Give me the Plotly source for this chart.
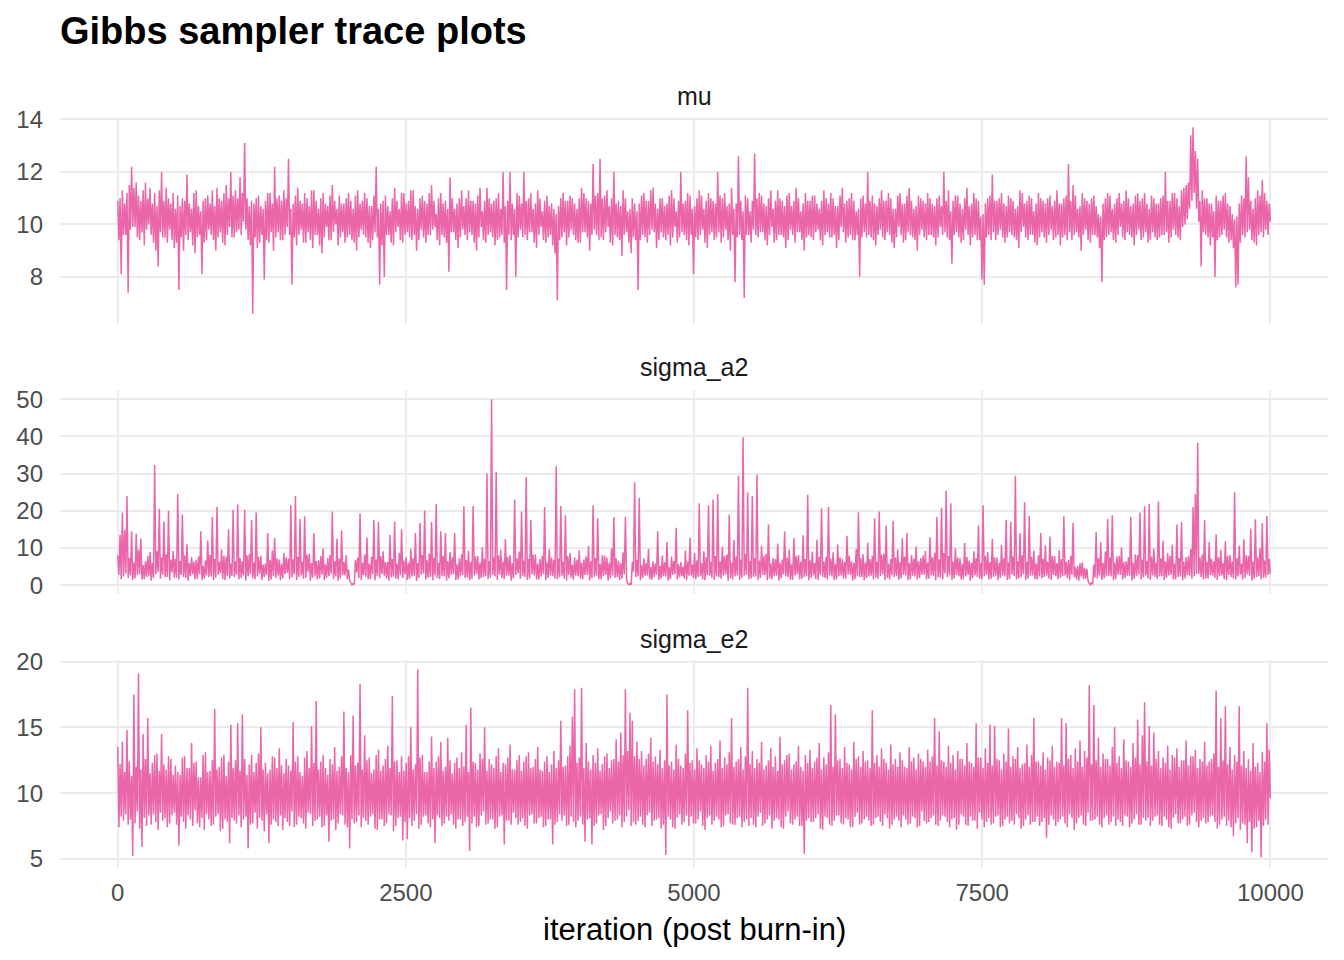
import numpy as np
import plotly.graph_objects as go
from plotly.subplots import make_subplots

# ---- data ----
# Each chain is stored as its upper-side draws (*_hi) and lower-side draws (*_lo);
# consecutive draws alternate hi, lo, hi, lo ... (one pair every 20 iterations).
mu_hi = [
    10.9, 11.0, 11.3, 10.8, 11.2, 11.5, 12.2, 11.4, 11.6, 11.1, 10.9, 11.3, 11.6, 11.0, 11.4, 10.8, 11.2, 10.7, 11.3, 12.0, 10.9, 11.4, 11.0, 10.8, 11.2,
    10.6, 11.1, 10.7, 11.0, 10.9, 11.9, 10.8, 10.6, 11.2, 11.3, 10.7, 10.5, 10.9, 11.0, 11.1, 10.8, 11.3, 10.7, 11.4, 11.0, 10.9, 11.2, 11.5, 11.0, 12.0,
    11.1, 11.3, 11.0, 11.8, 11.2, 13.1, 11.0, 10.7, 10.9, 10.8, 11.0, 11.1, 10.7, 10.6, 10.9, 11.2, 11.2, 10.8, 12.2, 11.0, 11.1, 10.9, 11.3, 11.0, 12.5,
    10.6, 10.8, 11.1, 11.4, 10.9, 10.8, 11.2, 11.0, 10.7, 11.3, 11.3, 10.9, 10.6, 11.0, 11.2, 10.8, 10.7, 11.1, 11.5, 10.9, 10.6, 11.1, 10.8, 10.8, 11.0,
    11.2, 10.9, 10.6, 11.1, 11.3, 10.8, 10.9, 11.2, 11.0, 10.7, 10.7, 11.1, 12.2, 10.6, 10.8, 10.9, 11.1, 10.7, 10.5, 11.0, 11.4, 10.9, 10.6, 11.2, 11.2,
    10.8, 10.9, 11.3, 11.3, 10.7, 10.6, 11.0, 11.1, 10.9, 10.8, 11.2, 11.5, 10.9, 10.4, 11.0, 11.2, 10.8, 10.9, 10.6, 11.8, 11.0, 10.6, 10.8, 11.0, 11.3,
    10.7, 11.0, 11.3, 10.9, 10.9, 10.8, 11.1, 11.4, 10.5, 10.9, 11.4, 11.0, 10.8, 10.9, 11.0, 11.2, 10.6, 12.0, 10.7, 10.9, 12.0, 10.8, 10.6, 11.2, 11.1,
    10.8, 12.0, 10.9, 11.0, 11.2, 10.6, 10.8, 11.3, 11.0, 10.5, 10.9, 11.1, 10.7, 10.8, 10.6, 10.4, 10.7, 11.0, 11.2, 10.9, 10.9, 11.1, 11.0, 10.8, 10.6,
    11.0, 11.4, 11.2, 11.0, 10.9, 10.8, 12.3, 11.1, 11.2, 12.5, 11.0, 11.1, 11.3, 10.7, 11.0, 12.0, 10.8, 10.9, 10.7, 11.3, 11.0, 10.5, 10.6, 11.0, 10.8,
    10.5, 10.8, 11.1, 11.2, 10.9, 10.9, 11.3, 11.4, 10.8, 10.6, 11.0, 11.0, 10.7, 10.8, 11.1, 11.3, 11.0, 10.5, 10.9, 12.0, 10.8, 10.9, 11.2, 11.1, 10.6,
    10.7, 11.0, 11.3, 11.1, 10.6, 10.9, 11.2, 11.0, 10.9, 10.8, 12.0, 11.1, 11.0, 11.2, 10.7, 10.8, 11.4, 10.6, 10.8, 12.6, 10.9, 10.5, 11.1, 11.0, 10.5,
    10.9, 12.7, 11.0, 11.2, 11.1, 10.8, 10.7, 11.0, 11.3, 10.6, 10.9, 11.3, 11.0, 10.9, 10.7, 11.1, 11.2, 10.7, 10.9, 11.4, 11.0, 10.5, 10.8, 11.2, 10.9,
    10.9, 11.1, 11.1, 10.8, 10.6, 10.9, 11.3, 11.0, 10.8, 11.2, 11.0, 10.7, 10.7, 11.1, 11.4, 10.8, 10.9, 11.0, 11.2, 10.9, 10.5, 10.6, 11.0, 11.1, 10.8,
    12.0, 10.9, 11.1, 10.8, 10.7, 11.0, 11.3, 10.9, 10.9, 11.2, 11.0, 10.6, 10.6, 11.1, 11.2, 10.8, 10.8, 11.1, 11.4, 10.9, 10.6, 10.7, 11.1, 11.0, 10.9,
    10.8, 11.2, 11.0, 10.8, 10.7, 11.0, 11.1, 10.7, 12.0, 10.9, 11.3, 10.5, 10.9, 11.1, 11.1, 10.8, 10.6, 11.0, 11.4, 10.7, 10.8, 11.2, 11.0, 10.9, 10.3,
    10.4, 10.8, 11.0, 11.1, 11.9, 10.9, 10.9, 11.0, 11.2, 10.8, 10.7, 11.1, 11.0, 10.9, 10.6, 10.7, 11.3, 11.2, 10.8, 10.9, 11.1, 11.0, 10.5, 10.8, 11.2,
    11.0, 10.9, 10.8, 11.0, 11.1, 10.7, 10.9, 11.3, 10.8, 10.8, 11.0, 11.1, 12.3, 10.9, 11.5, 11.1, 10.6, 10.7, 11.2, 11.0, 10.9, 10.8, 11.0, 11.1, 10.7,
    10.4, 10.3, 10.8, 11.0, 11.2, 11.1, 10.6, 10.8, 11.0, 11.2, 10.8, 10.9, 11.3, 11.0, 10.7, 10.8, 11.1, 11.2, 10.9, 11.0, 11.2, 10.8, 10.6, 11.1, 11.0,
    10.8, 10.8, 11.0, 11.1, 12.0, 10.9, 10.9, 11.2, 11.2, 11.0, 10.7, 11.3, 11.4, 11.5, 11.6, 13.4, 13.7, 12.8, 12.5, 10.9, 11.3, 11.0, 11.0, 10.8, 10.8,
    10.5, 11.1, 10.9, 10.9, 11.1, 11.2, 10.8, 10.7, 10.4, 10.2, 10.3, 10.8, 11.1, 11.0, 12.6, 11.8, 10.9, 10.6, 11.0, 11.3, 11.1, 11.7, 11.2, 10.9, 10.8,
]
mu_lo = [
    9.4, 8.1, 9.6, 9.6, 7.4, 9.8, 9.9, 9.9, 9.5, 9.4, 9.7, 9.2, 9.8, 10.0, 9.6, 9.3, 9.0, 8.4, 9.7, 9.5, 9.5, 9.3, 9.8, 9.4, 9.1,
    9.3, 7.5, 9.5, 9.0, 9.6, 9.4, 9.7, 9.2, 8.9, 9.5, 9.6, 8.1, 9.3, 9.4, 9.8, 9.6, 9.4, 9.0, 9.5, 9.7, 9.3, 9.2, 9.6, 9.9, 9.5,
    9.5, 9.7, 9.8, 9.6, 10.1, 9.8, 9.4, 9.2, 6.6, 9.5, 9.1, 9.3, 9.6, 7.9, 9.4, 9.3, 9.7, 9.0, 9.5, 9.7, 9.4, 9.4, 9.6, 9.9, 9.6,
    7.7, 9.5, 9.2, 9.6, 9.8, 9.3, 9.3, 9.7, 9.4, 9.1, 9.6, 9.6, 9.2, 8.9, 9.5, 9.9, 9.4, 9.4, 9.7, 10.0, 9.2, 9.5, 9.7, 9.3, 9.5,
    9.6, 9.4, 9.3, 9.0, 9.5, 9.8, 9.6, 9.5, 9.3, 9.1, 9.4, 9.7, 9.5, 7.7, 9.2, 8.0, 9.6, 9.6, 9.3, 9.2, 9.7, 9.9, 9.4, 9.3, 9.6,
    9.7, 9.5, 9.4, 9.6, 9.0, 9.4, 9.8, 9.5, 9.3, 9.6, 9.6, 9.8, 9.9, 9.4, 9.2, 9.6, 9.5, 9.3, 8.2, 9.7, 9.7, 9.4, 9.1, 9.5, 9.8,
    9.6, 9.4, 9.7, 9.6, 9.3, 9.0, 9.5, 9.9, 9.4, 9.3, 9.6, 9.7, 9.5, 9.2, 9.4, 9.5, 9.6, 9.3, 7.5, 9.6, 9.4, 9.6, 8.0, 9.5, 9.8,
    9.5, 9.6, 9.4, 9.7, 9.7, 9.3, 9.1, 9.6, 9.9, 9.4, 9.3, 9.5, 9.6, 9.2, 8.9, 7.1, 9.4, 9.5, 9.7, 9.2, 9.5, 9.8, 9.6, 9.4, 9.3,
    9.3, 9.7, 9.7, 9.5, 9.0, 9.6, 9.8, 9.6, 9.4, 9.5, 9.4, 9.7, 9.9, 9.3, 9.2, 9.6, 9.5, 9.4, 8.8, 9.6, 9.7, 9.3, 8.9, 9.5, 9.4,
    7.5, 9.4, 9.6, 9.5, 9.3, 9.6, 9.8, 9.7, 9.1, 9.4, 9.7, 9.5, 9.4, 9.6, 9.2, 9.5, 9.9, 9.3, 9.5, 9.7, 9.6, 9.4, 9.2, 9.6, 8.1,
    9.5, 9.4, 9.6, 9.8, 9.3, 9.1, 9.6, 9.7, 9.4, 9.5, 9.7, 9.3, 9.5, 9.8, 9.4, 9.0, 9.6, 7.8, 9.5, 9.6, 9.4, 7.2, 9.6, 9.6, 9.3,
    9.8, 9.6, 9.5, 9.7, 9.7, 9.4, 9.2, 9.6, 9.9, 9.3, 9.4, 9.6, 9.6, 9.5, 9.1, 9.4, 9.8, 9.6, 9.3, 9.7, 9.7, 9.4, 9.0, 9.5, 9.6,
    9.5, 9.4, 9.7, 9.8, 9.4, 9.2, 9.6, 9.7, 9.5, 9.5, 9.6, 9.1, 9.4, 9.9, 9.7, 9.3, 9.5, 9.6, 9.4, 9.4, 9.6, 8.0, 9.5, 9.7, 9.5,
    9.6, 9.5, 9.4, 9.2, 9.6, 9.8, 9.5, 9.4, 9.7, 9.6, 9.3, 9.1, 9.5, 9.9, 9.6, 9.3, 9.4, 9.7, 9.6, 9.5, 9.4, 9.0, 9.6, 9.8, 9.5,
    9.4, 9.6, 9.6, 9.5, 9.2, 9.5, 9.9, 9.6, 9.7, 9.5, 9.4, 8.5, 9.6, 9.7, 9.5, 9.3, 9.4, 9.8, 9.6, 9.2, 9.5, 9.6, 9.4, 9.4, 7.9,
    7.7, 9.5, 9.6, 9.4, 9.7, 9.4, 9.6, 9.8, 9.5, 9.3, 9.5, 9.7, 9.6, 9.5, 9.4, 9.1, 9.7, 9.9, 9.5, 9.4, 9.6, 9.6, 9.3, 9.2, 9.5,
    9.7, 9.5, 9.3, 9.6, 9.8, 9.4, 9.5, 9.6, 9.2, 9.5, 9.6, 9.4, 9.7, 9.4, 9.6, 9.7, 9.5, 9.0, 9.6, 9.8, 9.4, 9.3, 9.6, 9.6, 9.5,
    9.1, 7.8, 9.4, 9.5, 9.6, 9.7, 9.4, 9.3, 9.6, 9.9, 9.5, 9.4, 9.7, 9.6, 9.5, 9.2, 9.6, 9.8, 9.4, 9.5, 9.7, 9.3, 9.4, 9.7, 9.5,
    9.4, 9.5, 9.6, 9.6, 9.7, 9.3, 9.5, 9.8, 9.6, 9.5, 9.4, 9.9, 10.0, 10.2, 10.6, 10.9, 11.2, 10.6, 10.1, 8.4, 9.7, 9.6, 9.5, 9.2, 9.5,
    8.0, 9.4, 9.5, 9.6, 9.8, 9.5, 9.3, 9.4, 9.1, 7.6, 7.7, 9.3, 9.6, 9.5, 9.7, 9.8, 9.4, 9.3, 9.2, 9.6, 9.7, 9.5, 9.8, 9.6, 10.1,
]

sigma_a2_hi = [
    8.0, 13.5, 19.5, 14.8, 24.0, 7.2, 14.5, 6.1, 13.8, 9.6, 12.5, 5.4, 6.4, 7.8, 8.8, 6.0, 32.3, 9.1, 20.5, 7.4, 17.1, 8.3, 20.0, 6.9, 9.2,
    7.1, 24.5, 6.5, 19.0, 8.0, 11.0, 5.9, 7.5, 6.3, 6.8, 7.7, 14.5, 5.2, 6.6, 12.0, 8.1, 18.3, 7.0, 21.0, 6.2, 9.6, 7.9, 7.7, 15.0, 5.8,
    20.3, 6.4, 21.7, 7.3, 6.5, 20.3, 8.0, 8.3, 17.5, 6.1, 19.5, 7.6, 7.9, 5.5, 5.8, 14.0, 6.8, 9.4, 12.7, 7.2, 6.9, 5.7, 8.6, 7.5, 7.1,
    21.5, 6.9, 24.0, 7.6, 17.8, 6.3, 18.5, 8.2, 8.4, 5.9, 14.0, 6.5, 6.7, 7.8, 9.9, 5.6, 7.3, 8.0, 19.8, 6.4, 12.5, 7.1, 14.7, 6.2, 8.0,
    4.2, 0.6, 0.4, 6.8, 7.4, 19.3, 6.0, 8.2, 12.8, 5.7, 7.6, 17.5, 6.9, 17.0, 7.8, 9.1, 6.2, 6.3, 13.5, 7.0, 17.1, 5.8, 8.7, 15.0, 6.6,
    7.4, 6.1, 9.8, 7.2, 14.0, 5.9, 16.7, 8.1, 20.1, 6.7, 8.5, 17.0, 7.3, 21.8, 6.0, 14.5, 7.9, 14.0, 6.4, 8.9, 7.5, 14.0, 5.6, 7.2, 8.3,
    21.3, 6.8, 9.3, 6.2, 21.3, 7.7, 7.8, 6.0, 10.2, 7.1, 30.0, 6.5, 50.0, 7.4, 30.4, 8.0, 9.5, 6.3, 12.4, 7.6, 8.0, 5.9, 23.0, 7.2, 9.0,
    19.7, 6.6, 29.1, 7.0, 17.5, 8.2, 8.3, 5.8, 7.0, 7.9, 21.0, 6.1, 9.7, 7.4, 6.8, 32.0, 7.1, 21.3, 6.2, 18.8, 7.8, 8.6, 5.5, 7.5, 6.9,
    9.4, 6.0, 6.9, 7.7, 10.5, 6.4, 21.5, 7.3, 18.0, 5.7, 8.1, 7.9, 7.4, 6.1, 9.9, 18.3, 7.2, 6.6, 5.9, 8.8, 18.3, 0.5, 0.4, 6.3, 27.7,
    6.8, 23.5, 5.4, 7.2, 6.0, 9.8, 4.9, 6.4, 5.8, 14.5, 5.2, 8.0, 6.1, 11.6, 4.8, 7.7, 6.5, 15.4, 5.6, 6.2, 5.0, 9.3, 6.3, 12.8, 5.5,
    8.6, 6.7, 22.0, 5.9, 9.1, 7.5, 21.5, 6.2, 23.0, 7.8, 24.5, 6.4, 10.3, 7.9, 8.2, 19.0, 6.0, 12.1, 7.7, 29.4, 6.8, 39.8, 8.4, 25.0, 6.5,
    24.0, 7.3, 29.7, 6.6, 10.6, 7.9, 8.4, 16.3, 5.8, 7.3, 7.0, 11.2, 6.1, 6.9, 14.5, 7.4, 9.5, 5.6, 12.7, 7.8, 8.1, 6.3, 13.4, 7.0, 24.3,
    6.7, 9.0, 5.9, 12.2, 7.6, 20.7, 6.4, 7.6, 21.0, 7.1, 8.8, 5.7, 10.9, 7.5, 7.1, 6.2, 13.3, 7.9, 6.5, 6.0, 9.7, 19.6, 7.3, 8.3, 6.1,
    11.4, 7.0, 7.9, 18.0, 6.3, 19.8, 8.2, 8.5, 16.0, 5.8, 7.0, 17.3, 7.4, 9.6, 6.2, 12.6, 7.7, 14.0, 5.9, 8.1, 7.2, 10.4, 6.4, 7.3, 8.0,
    9.2, 6.1, 12.9, 7.5, 8.7, 18.3, 6.9, 20.8, 8.6, 25.4, 7.8, 22.0, 6.3, 9.9, 7.4, 7.2, 5.7, 11.3, 7.6, 6.6, 6.0, 9.1, 7.3, 16.0, 5.9,
    21.5, 7.9, 8.9, 6.2, 12.4, 7.5, 7.4, 6.0, 10.8, 7.2, 17.5, 6.1, 17.0, 7.7, 29.4, 6.4, 14.0, 8.0, 22.3, 6.3, 18.6, 7.6, 9.3, 5.8, 8.0,
    14.0, 7.1, 10.7, 6.2, 13.1, 7.8, 7.8, 5.9, 9.4, 7.0, 18.5, 6.3, 6.8, 7.9, 16.8, 4.8, 5.2, 5.9, 6.1, 4.6, 4.4, 0.5, 0.6, 5.5, 14.3,
    7.3, 11.5, 6.0, 9.0, 17.8, 7.4, 18.8, 6.1, 7.7, 7.9, 10.2, 6.2, 6.4, 7.5, 18.3, 6.0, 8.3, 8.1, 19.5, 6.8, 21.2, 6.5, 21.8, 7.7, 9.8,
    6.1, 22.5, 7.2, 12.0, 6.4, 8.6, 7.9, 10.9, 5.8, 16.3, 7.3, 17.0, 6.3, 7.5, 7.8, 9.7, 21.0, 24.5, 38.3, 7.4, 8.2, 17.5, 6.2, 11.6, 7.1,
    6.4, 13.7, 7.5, 9.5, 5.9, 11.8, 7.8, 8.1, 6.3, 25.0, 7.2, 10.6, 5.7, 12.3, 8.0, 7.9, 15.2, 6.2, 17.7, 7.4, 9.9, 16.7, 6.6, 18.6, 7.0,
]
sigma_a2_lo = [
    2.8, 1.6, 2.3, 3.1, 1.9, 2.6, 1.4, 1.8, 2.7, 3.0, 1.5, 1.6, 2.2, 2.5, 1.2, 1.9, 2.9, 3.5, 1.7, 2.8, 2.1, 2.2, 1.3, 3.4, 2.0,
    2.0, 1.5, 2.7, 2.2, 1.9, 1.1, 2.4, 2.9, 1.5, 1.7, 2.9, 1.3, 1.7, 2.6, 2.1, 2.3, 1.4, 2.0, 2.8, 3.2, 1.6, 1.4, 2.5, 1.8, 2.5,
    2.2, 2.8, 1.5, 1.9, 2.6, 1.2, 2.4, 3.0, 1.8, 1.6, 2.3, 3.0, 1.4, 2.1, 2.7, 1.1, 1.5, 2.4, 1.9, 2.6, 1.3, 1.8, 2.9, 3.3, 1.6,
    2.1, 2.9, 1.4, 2.2, 2.6, 1.7, 1.9, 3.6, 1.2, 2.0, 2.5, 1.5, 1.8, 2.8, 1.3, 1.9, 2.4, 3.1, 1.6, 2.3, 1.1, 1.8, 2.7, 2.6, 1.5,
    1.2, 0.1, 0.2, 3.4, 1.9, 1.4, 2.7, 2.2, 1.6, 1.6, 2.9, 1.3, 2.4, 1.8, 3.0, 2.5, 1.8, 1.2, 2.1, 2.2, 1.7, 1.5, 2.6, 1.9, 2.9,
    1.4, 1.7, 2.3, 2.5, 1.1, 1.9, 2.8, 3.1, 1.5, 2.0, 2.2, 1.3, 2.6, 1.9, 1.6, 2.4, 2.4, 1.2, 1.8, 2.7, 2.9, 1.4, 1.5, 2.3, 2.7,
    1.9, 2.1, 1.3, 1.7, 2.6, 3.0, 1.5, 1.9, 2.2, 2.4, 1.6, 2.0, 2.8, 2.3, 1.4, 2.8, 1.9, 1.6, 2.5, 2.5, 1.2, 1.8, 2.7, 3.2, 1.7,
    2.4, 2.2, 1.4, 1.8, 2.9, 2.6, 1.5, 1.5, 2.3, 2.9, 1.3, 1.9, 2.6, 2.4, 1.7, 1.6, 2.1, 2.5, 1.7, 1.2, 2.8, 2.0, 1.4, 2.6, 2.3,
    1.8, 1.6, 2.7, 2.7, 1.3, 1.9, 2.2, 2.5, 1.6, 1.5, 2.4, 2.8, 1.2, 1.8, 2.6, 2.0, 2.2, 1.4, 1.7, 2.9, 1.5, 0.1, 0.1, 3.6, 2.2,
    2.4, 1.3, 1.9, 2.5, 2.6, 1.6, 1.5, 2.2, 2.8, 1.4, 1.7, 2.3, 2.3, 1.2, 1.6, 2.7, 3.0, 1.5, 2.1, 2.4, 1.8, 1.3, 2.5, 2.6, 1.9,
    1.6, 2.2, 2.4, 1.6, 1.3, 2.7, 2.5, 1.9, 1.4, 2.4, 2.1, 1.7, 2.6, 2.9, 1.2, 1.9, 1.5, 2.3, 2.6, 1.4, 2.0, 2.5, 2.8, 1.6, 1.8,
    2.2, 2.3, 1.4, 1.9, 2.7, 2.7, 1.3, 1.8, 1.6, 2.4, 2.5, 1.2, 1.8, 2.9, 2.3, 2.2, 1.4, 1.4, 2.6, 2.9, 1.5, 1.7, 2.2, 2.4, 1.3,
    2.0, 2.6, 1.6, 1.4, 2.8, 2.2, 1.9, 1.5, 2.6, 2.3, 1.3, 1.5, 2.4, 2.6, 1.7, 1.8, 2.9, 2.7, 1.2, 1.6, 2.5, 2.1, 2.2, 1.4, 1.9,
    2.3, 2.5, 1.5, 2.0, 1.7, 2.4, 2.9, 1.3, 1.9, 1.5, 2.6, 2.2, 2.4, 1.4, 1.8, 2.7, 2.6, 1.3, 1.6, 2.5, 2.3, 1.5, 1.9, 2.8, 2.8,
    1.5, 1.7, 2.6, 2.5, 1.3, 2.1, 2.0, 1.6, 3.1, 2.2, 2.6, 1.4, 1.8, 2.7, 2.4, 1.5, 1.5, 2.3, 2.7, 1.2, 1.9, 2.6, 2.2, 1.7, 1.6,
    2.4, 2.8, 1.5, 1.7, 2.2, 2.5, 1.3, 1.9, 2.6, 2.3, 1.4, 1.6, 2.8, 2.4, 1.5, 1.8, 2.2, 2.9, 1.3, 1.7, 2.5, 2.6, 1.6, 1.5, 2.3,
    1.8, 2.2, 2.5, 1.8, 1.4, 2.7, 2.3, 1.6, 1.9, 2.4, 2.6, 1.9, 1.3, 2.8, 2.1, 1.5, 1.2, 2.3, 1.6, 1.7, 1.1, 0.1, 0.2, 2.0, 1.8,
    2.6, 1.4, 1.8, 2.3, 2.5, 2.3, 1.3, 1.6, 2.8, 2.7, 1.5, 1.9, 2.5, 2.5, 1.2, 1.7, 2.4, 2.9, 1.6, 2.1, 2.6, 1.8, 1.4, 2.6, 2.2,
    1.6, 2.3, 2.4, 1.4, 1.9, 2.6, 2.8, 1.5, 1.5, 2.2, 2.3, 1.3, 1.8, 2.7, 2.6, 1.7, 2.4, 3.0, 2.9, 2.2, 1.5, 1.8, 1.7, 2.7, 2.5,
    1.9, 1.4, 2.4, 2.6, 1.6, 1.3, 2.7, 2.2, 1.8, 1.5, 2.3, 2.8, 1.5, 1.9, 2.9, 2.5, 1.2, 1.7, 2.2, 2.4, 1.6, 2.0, 2.0, 2.7, 3.1,
]

sigma_e2_hi = [
    13.5, 12.2, 13.9, 11.6, 14.8, 12.4, 11.3, 17.5, 12.0, 19.1, 11.8, 14.5, 12.6, 15.7, 11.5, 12.3, 12.9, 13.0, 11.7, 14.5, 12.2, 11.8, 12.8, 12.6, 11.4,
    12.1, 11.6, 11.4, 12.7, 12.8, 11.9, 11.9, 13.8, 12.3, 12.4, 11.2, 11.2, 12.9, 13.1, 11.6, 11.7, 12.5, 16.4, 11.8, 12.0, 12.7, 12.9, 11.3, 12.4, 15.2,
    11.9, 12.5, 15.3, 11.7, 16.0, 12.6, 11.4, 12.2, 12.9, 11.6, 12.3, 13.0, 15.0, 11.8, 12.3, 11.5, 11.8, 12.8, 12.7, 11.9, 13.4, 12.1, 11.5, 12.6, 12.1,
    11.7, 15.4, 12.4, 12.8, 11.6, 11.3, 12.7, 13.2, 11.9, 15.1, 12.3, 17.0, 11.8, 12.4, 12.9, 11.9, 11.4, 12.6, 12.2, 13.5, 11.7, 12.0, 12.8, 16.2, 11.9,
    11.6, 12.9, 15.9, 12.1, 12.3, 18.3, 11.8, 14.4, 12.5, 12.7, 11.5, 11.8, 12.9, 13.3, 11.7, 12.1, 12.6, 13.6, 11.9, 17.4, 12.4, 12.5, 11.6, 12.8, 11.7,
    12.3, 12.8, 15.0, 11.8, 12.2, 19.4, 12.7, 12.9, 11.6, 11.6, 12.4, 14.3, 11.9, 12.4, 12.8, 13.9, 11.7, 12.0, 14.2, 12.5, 11.5, 12.3, 12.7, 11.9, 13.1,
    12.0, 15.2, 11.6, 16.5, 12.4, 12.3, 11.8, 13.0, 12.6, 15.0, 11.7, 12.6, 12.2, 11.9, 12.8, 13.4, 11.6, 12.3, 12.2, 12.7, 13.7, 11.8, 11.8, 12.5, 12.9,
    11.7, 12.4, 12.8, 13.1, 11.9, 12.0, 12.6, 13.5, 11.8, 11.7, 12.4, 12.8, 11.6, 12.2, 13.2, 11.9, 12.5, 15.5, 12.0, 12.1, 12.8, 13.6, 15.8, 17.9, 12.3,
    12.7, 18.0, 11.9, 13.8, 12.4, 11.8, 12.9, 12.3, 13.4, 11.7, 12.2, 12.8, 13.0, 11.9, 12.5, 12.6, 14.1, 12.4, 14.6, 12.9, 17.9, 13.2, 16.1, 15.5, 12.8,
    13.9, 12.6, 13.2, 12.1, 12.6, 13.0, 14.2, 12.4, 12.8, 12.2, 13.3, 11.9, 12.5, 17.5, 12.1, 12.4, 11.8, 13.7, 12.6, 12.1, 11.9, 13.0, 16.3, 12.3, 12.5,
    11.8, 13.4, 12.5, 12.2, 11.9, 12.9, 12.4, 13.6, 11.7, 12.3, 12.6, 14.0, 11.9, 12.7, 12.2, 13.1, 15.7, 12.0, 12.4, 12.6, 13.5, 11.8, 12.8, 18.0, 12.2,
    13.2, 11.9, 12.6, 12.3, 13.9, 11.8, 12.1, 12.5, 13.4, 12.0, 12.8, 11.7, 14.3, 12.2, 12.5, 12.9, 13.0, 11.8, 12.2, 12.4, 13.6, 12.0, 11.7, 12.9, 12.3,
    13.3, 11.9, 12.4, 12.7, 13.8, 11.8, 12.7, 12.2, 13.1, 16.7, 12.0, 16.0, 12.5, 12.6, 11.9, 13.5, 12.3, 12.2, 11.8, 13.9, 12.6, 12.8, 12.0, 13.2, 12.4,
    12.5, 11.9, 16.3, 12.3, 12.9, 12.0, 13.4, 12.6, 12.3, 11.8, 13.7, 12.2, 12.6, 12.0, 13.1, 12.5, 12.0, 11.9, 13.5, 12.4, 12.7, 11.8, 13.0, 12.6, 12.4,
    12.0, 13.3, 12.4, 12.8, 15.7, 12.1, 14.7, 12.5, 12.4, 12.0, 13.6, 12.3, 12.9, 11.8, 13.2, 12.6, 12.6, 12.1, 13.8, 12.4, 12.3, 12.0, 15.3, 12.7, 12.7,
    11.9, 13.4, 12.3, 15.2, 12.1, 15.1, 12.6, 12.5, 11.8, 13.0, 12.4, 14.9, 12.0, 12.8, 12.6, 13.5, 11.9, 12.2, 12.3, 13.7, 12.0, 12.9, 15.7, 12.4, 12.4,
    12.1, 13.1, 11.8, 12.7, 12.5, 13.6, 12.0, 12.4, 12.3, 15.7, 12.1, 15.3, 12.6, 12.9, 11.9, 13.4, 12.4, 14.0, 12.0, 13.2, 12.7, 18.2, 12.2, 16.7, 12.5,
    14.2, 12.0, 13.0, 12.6, 12.6, 12.1, 13.5, 15.0, 12.3, 12.8, 11.9, 14.1, 12.5, 12.4, 12.0, 13.8, 12.7, 15.6, 12.2, 14.4, 16.9, 12.4, 15.1, 12.1, 14.6,
    12.6, 13.2, 11.9, 12.7, 12.3, 13.6, 11.8, 12.9, 12.7, 13.4, 12.0, 12.5, 12.5, 14.0, 12.1, 12.8, 12.8, 13.3, 11.9, 12.6, 12.4, 13.9, 12.1, 12.4, 12.6,
    13.0, 17.8, 12.0, 15.7, 12.5, 16.6, 12.2, 13.5, 11.8, 12.9, 12.4, 16.6, 12.1, 13.2, 11.9, 12.6, 11.7, 13.8, 12.0, 12.3, 11.6, 13.1, 12.4, 15.3, 13.3,
]
sigma_e2_lo = [
    7.4, 8.2, 7.9, 8.4, 7.6, 8.0, 5.2, 7.7, 8.6, 7.3, 5.9, 8.1, 7.5, 8.3, 7.6, 8.4, 7.8, 7.2, 8.5, 7.9, 8.1, 7.4, 7.7, 8.3, 8.5,
    7.6, 6.0, 8.2, 7.8, 7.3, 8.3, 8.0, 7.5, 8.7, 7.7, 7.4, 8.1, 7.2, 8.4, 8.0, 7.5, 7.6, 8.2, 8.4, 7.1, 7.3, 8.0, 7.8, 6.2, 8.1,
    7.9, 7.7, 8.3, 7.4, 8.0, 8.2, 5.8, 7.6, 7.7, 8.5, 7.3, 8.1, 7.9, 7.1, 8.4, 6.2, 7.6, 8.0, 7.8, 7.5, 8.3, 7.2, 8.1, 7.8, 7.5,
    8.6, 7.4, 7.6, 8.2, 8.1, 7.7, 7.3, 8.5, 8.4, 7.5, 7.9, 8.0, 8.2, 7.4, 7.5, 8.3, 6.3, 7.9, 8.0, 7.2, 7.7, 8.4, 8.3, 7.6, 7.4,
    5.8, 8.0, 7.7, 7.8, 8.3, 7.4, 8.1, 7.9, 7.6, 8.2, 8.4, 7.3, 7.2, 8.0, 8.0, 7.5, 7.7, 8.4, 8.3, 7.1, 7.5, 8.1, 8.2, 6.4, 7.8,
    6.5, 8.1, 7.5, 7.9, 8.4, 7.3, 7.6, 8.2, 8.3, 7.7, 7.4, 8.0, 6.2, 8.3, 8.1, 7.5, 7.7, 8.2, 7.9, 8.4, 7.6, 7.3, 8.0, 8.0, 7.5,
    7.8, 8.2, 5.6, 7.7, 8.2, 7.4, 7.5, 8.3, 8.6, 7.6, 7.7, 8.0, 8.0, 7.3, 7.4, 8.2, 8.3, 6.1, 7.9, 7.9, 7.6, 8.5, 8.1, 7.6, 7.8,
    8.1, 7.5, 7.3, 8.3, 8.4, 7.7, 7.7, 8.1, 8.2, 7.4, 7.5, 8.0, 8.0, 6.1, 7.6, 7.8, 8.4, 7.9, 8.3, 7.5, 7.6, 8.2, 7.8, 7.4, 7.9,
    8.2, 7.6, 6.3, 8.0, 8.1, 6.1, 7.5, 7.7, 8.3, 8.4, 7.2, 7.5, 8.1, 8.6, 7.7, 7.9, 8.0, 8.3, 7.4, 7.8, 8.2, 8.7, 7.5, 7.8, 7.6,
    7.9, 8.2, 7.6, 7.4, 8.3, 8.5, 7.5, 7.9, 8.0, 8.1, 7.3, 7.6, 5.3, 8.2, 8.0, 7.4, 7.3, 8.1, 8.4, 7.6, 7.8, 8.3, 7.5, 8.2, 7.7,
    7.7, 8.0, 8.6, 7.5, 7.2, 8.1, 8.3, 7.6, 7.9, 8.2, 8.0, 7.4, 7.5, 8.3, 8.4, 7.7, 7.6, 7.6, 8.1, 8.2, 7.4, 7.8, 8.0, 7.5, 8.1,
    7.6, 7.4, 8.2, 8.5, 7.5, 7.7, 8.0, 8.3, 7.3, 7.9, 8.1, 8.0, 7.4, 7.3, 8.2, 8.6, 7.7, 7.6, 8.0, 8.2, 7.5, 7.5, 5.4, 7.9, 8.1,
    7.8, 7.8, 8.1, 8.4, 7.3, 7.2, 8.2, 8.1, 7.6, 7.5, 7.9, 8.3, 8.3, 7.7, 7.6, 8.1, 8.0, 7.4, 7.4, 8.2, 8.5, 7.6, 7.7, 8.0, 8.2,
    7.9, 7.5, 7.6, 8.1, 8.2, 7.8, 7.5, 8.4, 8.1, 7.3, 7.6, 8.0, 8.2, 7.9, 7.4, 8.3, 8.0, 7.6, 7.7, 8.2, 8.1, 7.4, 7.5, 8.6, 7.9,
    7.7, 7.8, 8.1, 8.3, 7.6, 7.5, 7.9, 8.3, 8.2, 7.8, 7.4, 8.0, 8.1, 7.2, 7.6, 8.4, 8.2, 7.6, 7.5, 8.2, 7.9, 7.9, 7.3, 8.5, 8.0,
    7.4, 7.8, 8.1, 7.6, 7.7, 8.2, 8.3, 7.4, 7.5, 8.0, 8.2, 7.7, 7.9, 7.6, 8.4, 8.1, 7.3, 7.5, 8.0, 8.3, 7.6, 7.8, 7.8, 8.2, 7.5,
    7.8, 8.1, 6.6, 7.6, 8.3, 8.0, 7.5, 7.8, 8.0, 8.2, 7.7, 7.4, 8.4, 8.1, 7.2, 7.7, 8.1, 8.3, 7.6, 7.5, 8.5, 7.9, 7.9, 8.0, 8.2,
    7.6, 7.4, 8.1, 8.3, 7.6, 7.8, 8.2, 7.5, 8.0, 7.8, 7.5, 8.3, 8.2, 7.4, 7.7, 8.0, 8.4, 7.6, 7.6, 8.1, 7.9, 8.1, 7.5, 7.9, 8.2,
    8.3, 7.6, 7.5, 8.2, 8.0, 7.4, 7.3, 8.1, 8.4, 7.7, 7.7, 8.0, 8.2, 7.5, 7.6, 8.3, 8.5, 7.8, 7.4, 7.9, 8.1, 7.7, 7.8, 8.2, 8.3,
    7.8, 7.3, 7.6, 8.0, 8.2, 7.5, 7.9, 7.4, 6.7, 7.7, 8.1, 7.2, 7.7, 7.6, 6.2, 7.8, 5.5, 7.3, 7.4, 7.9, 5.1, 7.5, 8.0, 7.6, 9.6,
]

params = ["mu", "sigma_a2", "sigma_e2"]
chains_hi = [mu_hi, sigma_a2_hi, sigma_e2_hi]
chains_lo = [mu_lo, sigma_a2_lo, sigma_e2_lo]
x_ticks = [0, 2500, 5000, 7500, 10000]
x_tick_text = ["0", "2500", "5000", "7500", "10000"]
y_ticks = [[8, 10, 12, 14], [0, 10, 20, 30, 40, 50], [5, 10, 15, 20]]

# ---- figure ----
W, H = 1344, 960
ML, MR, MT, MB = 60, 16, 118, 93
plot_h = H - MT - MB

def frac(px_y):
    return (H - MB - px_y) / plot_h

panel_px = [(118, 323), (390, 594), (660, 867)]
strip_px = [96, 367, 639]

fig = make_subplots(rows=3, cols=1, shared_xaxes=True)

line_col = "rgba(233,90,162,0.93)"
grid_col = "#EBEBEB"
FONT = "Liberation Sans, Arial, sans-serif"
tick_font = dict(family=FONT, size=24, color="#4D4D4D")

def padded(vals):
    lo, hi = min(vals), max(vals)
    pad = 0.05 * (hi - lo)
    return [lo - pad, hi + pad]

for k, name in enumerate(params):
    draws = [v for pair in zip(chains_hi[k], chains_lo[k]) for v in pair]
    iters = np.linspace(1, 10000, len(draws))
    fig.add_trace(
        go.Scatter(x=iters, y=draws, mode="lines",
                   line=dict(color=line_col, width=1.5, simplify=False),
                   hoverinfo="skip", showlegend=False),
        row=k + 1, col=1,
    )
    top, bot = panel_px[k]
    yname = "yaxis" if k == 0 else f"yaxis{k+1}"
    xname = "xaxis" if k == 0 else f"xaxis{k+1}"
    fig.layout[yname].update(
        domain=[frac(bot), frac(top)],
        range=padded(draws),
        tickmode="array", tickvals=y_ticks[k],
        showgrid=True, gridcolor=grid_col, gridwidth=2,
        zeroline=False, showline=False, ticks="",
        tickfont=tick_font, ticklabelstandoff=16,
    )
    fig.layout[xname].update(
        range=[-500, 10500],
        tickmode="array", tickvals=x_ticks, ticktext=x_tick_text,
        showgrid=True, gridcolor=grid_col, gridwidth=2,
        zeroline=False, showline=False, ticks="",
        showticklabels=(k == 2),
        tickfont=tick_font, ticklabelstandoff=9,
    )
    fig.add_annotation(
        text=name, x=0.5, xref="paper", y=frac(strip_px[k]), yref="paper",
        xanchor="center", yanchor="middle", showarrow=False,
        font=dict(family=FONT, size=25, color="#1A1A1A"),
    )

fig.add_annotation(
    text="iteration (post burn-in)", x=0.5, xref="paper", y=frac(929), yref="paper",
    xanchor="center", yanchor="middle", showarrow=False,
    font=dict(family=FONT, size=31, color="black"),
)

fig.update_layout(
    width=W, height=H,
    margin=dict(l=ML, r=MR, t=MT, b=MB),
    paper_bgcolor="white", plot_bgcolor="white",
    title=dict(
        text="<b>Gibbs sampler trace plots</b>",
        x=ML / W, xanchor="left", xref="container",
        y=1 - 31 / H, yanchor="middle", yref="container",
        font=dict(family=FONT, size=38, color="black"),
    ),
)

fig.write_html("out.html", config={"displayModeBar": False})
